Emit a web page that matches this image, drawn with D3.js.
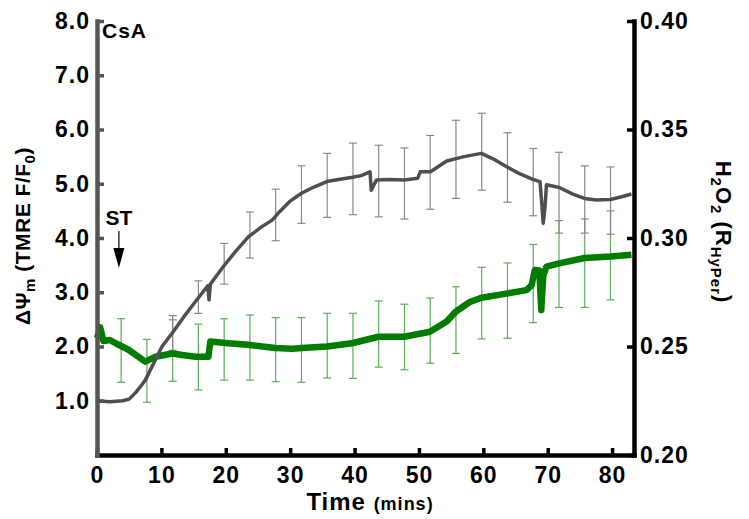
<!DOCTYPE html>
<html>
<head>
  <meta charset="utf-8">
  <title>CsA - TMRE and HyPer</title>
  <script src="https://d3js.org/d3.v7.min.js"></script>
  <style>
    body { margin: 0; background: white; }
    text { font-family: "Liberation Sans", Arial, sans-serif; font-weight: bold; fill: black; }
  </style>
</head>
<body>
<div id="output"></div>

<script type="text/javascript">

  // TMRE trace (grey, left axis), time in mins
  var tmreTime  = [0, 1, 2, 3, 4, 5, 6, 7, 7.5, 8.5, 10.1, 11.7, 13.5, 15.3, 17.2, 17.4, 17.6, 19.6, 21.5, 23.5, 25.5, 27.2, 28.4, 30, 31.7, 33.5, 35.7, 37.5, 39.7, 41, 42.4, 42.6, 43.4, 45.5, 47.7, 49.8, 50.2, 51.8, 54.3, 57, 59.7, 61.5, 63.7, 65.7, 67.7, 68.8, 69.1, 69.3, 69.6, 69.8, 71.8, 73.9, 75.7, 77.5, 79.7, 81.5, 83];
  var tmreValue = [1.00, 0.99, 0.98, 0.99, 1.00, 1.03, 1.15, 1.30, 1.38, 1.62, 2.00, 2.25, 2.55, 2.83, 3.12, 2.86, 3.15, 3.47, 3.75, 4.02, 4.20, 4.33, 4.49, 4.68, 4.82, 4.93, 5.04, 5.08, 5.12, 5.15, 5.22, 4.88, 5.07, 5.08, 5.07, 5.10, 5.22, 5.22, 5.42, 5.50, 5.56, 5.46, 5.31, 5.18, 5.08, 5.04, 4.60, 4.27, 4.60, 4.98, 4.93, 4.81, 4.73, 4.70, 4.71, 4.76, 4.81];

  // HyPer trace (green, right axis)
  var hyperTime  = [0, 0.5, 1, 2, 2.9, 4.9, 6.4, 7.5, 9.1, 11.7, 13.5, 15.3, 17.3, 17.6, 20.4, 23.5, 27.7, 30.3, 31.8, 35.7, 39.6, 43.7, 47.7, 51.7, 54.3, 55.7, 57.9, 59.7, 63.8, 66.7, 67.5, 68, 68.7, 69, 69.3, 69.8, 71.8, 75.7, 79.8, 83];
  var hyperValue = [0.2538, 0.2588, 0.2525, 0.2530, 0.2515, 0.2485, 0.2453, 0.2430, 0.2453, 0.2468, 0.2460, 0.2453, 0.2453, 0.2523, 0.2515, 0.2508, 0.2493, 0.2490, 0.2493, 0.2500, 0.2515, 0.2545, 0.2545, 0.2568, 0.2615, 0.2660, 0.2705, 0.2725, 0.2745, 0.2760, 0.2783, 0.2853, 0.2850, 0.2668, 0.2825, 0.2868, 0.2883, 0.2908, 0.2915, 0.2923];

  // error bars
  var barTime = [3.75, 7.75, 11.75, 15.75, 19.75, 23.75, 27.75, 31.75, 35.75, 39.75, 43.75, 47.75, 51.75, 55.75, 59.75, 63.75, 67.75, 71.75, 75.75, 79.75];
  var tmreBarTop    = [null, null, 2.57, 3.21, 3.90, 4.48, 4.90, 5.33, 5.56, 5.75, 5.71, 5.66, 5.89, 6.17, 6.30, 5.94, 5.65, 5.58, 5.33, 5.31];
  var tmreBarBottom = [null, null, 1.93, 2.61, 3.15, 3.63, 3.95, 4.27, 4.38, 4.43, 4.39, 4.35, 4.53, 4.73, 4.88, 4.66, 4.41, 4.09, 4.09, 4.07];
  var hyperBarTop    = [0.2628, 0.2533, 0.2623, 0.2603, 0.2628, 0.2645, 0.2633, 0.2633, 0.2653, 0.2653, 0.2710, 0.2695, 0.2723, 0.2775, 0.2865, 0.2885, 0.2970, 0.3080, 0.3088, 0.3125];
  var hyperBarBottom = [0.2335, 0.2243, 0.2340, 0.2300, 0.2345, 0.2345, 0.2338, 0.2335, 0.2355, 0.2353, 0.2405, 0.2393, 0.2423, 0.2468, 0.2535, 0.2538, 0.2610, 0.2680, 0.2680, 0.2715];

  var leftTicks  = [1, 2, 3, 4, 5, 6, 7, 8];
  var rightTicks = [0.20, 0.25, 0.30, 0.35, 0.40];
  var timeTicks  = [0, 10, 20, 30, 40, 50, 60, 70, 80];

  var w = 749;
  var h = 519;

  var x = d3.scaleLinear()
          .domain([0, 83.4])
          .range([97, 634]);

  var yL = d3.scaleLinear()
          .domain([0, 8])
          .range([455, 21]);

  var yR = d3.scaleLinear()
          .domain([0.2, 0.4])
          .range([455, 21]);

  var svg = d3.select("#output").append("svg")
          .attr("width", w)
          .attr("height", h);

  // error bars first, traces go over them
  function bars(top, bottom, y, color) {
    var g = svg.append("g")
            .attr("stroke", color)
            .attr("stroke-width", 1.2)
            .attr("fill", "none");
    barTime.forEach(function(t, i) {
      if (top[i] == null) return;
      var bx = x(t);
      g.append("line").attr("x1", bx).attr("x2", bx).attr("y1", y(top[i])).attr("y2", y(bottom[i]));
      g.append("line").attr("x1", bx - 4).attr("x2", bx + 4).attr("y1", y(top[i])).attr("y2", y(top[i]));
      g.append("line").attr("x1", bx - 4).attr("x2", bx + 4).attr("y1", y(bottom[i])).attr("y2", y(bottom[i]));
    });
  }

  bars(hyperBarTop, hyperBarBottom, yR, "#5aad5a");
  bars(tmreBarTop, tmreBarBottom, yL, "#8a8a8a");

  var hyperLine = d3.line()
          .x(function(d, i){ return x(hyperTime[i]) })
          .y(function(d){ return yR(d) });

  var tmreLine = d3.line()
          .x(function(d, i){ return x(tmreTime[i]) })
          .y(function(d){ return yL(d) });

  svg.append("path")
          .attr("d", hyperLine(hyperValue))
          .attr("fill", "none")
          .attr("stroke", "#007c00")
          .attr("stroke-width", 6.5)
          .attr("stroke-linejoin", "round");

  svg.append("path")
          .attr("d", tmreLine(tmreValue))
          .attr("fill", "none")
          .attr("stroke", "#4f4f4f")
          .attr("stroke-width", 3.5)
          .attr("stroke-linejoin", "round");

  // axes
  var xAxis = svg.append("g")
          .attr("transform", "translate(0,455)")
          .call(d3.axisBottom(x).tickValues(timeTicks).tickSizeInner(-7).tickSizeOuter(0).tickPadding(12));

  var rAxis = svg.append("g")
          .attr("transform", "translate(634,0)")
          .call(d3.axisRight(yR).tickValues(rightTicks).tickFormat(d3.format(".2f")).tickSizeInner(-7).tickSizeOuter(0).tickPadding(6));

  var lAxis = svg.append("g")
          .attr("transform", "translate(97,0)")
          .call(d3.axisLeft(yL).tickValues(leftTicks).tickFormat(d3.format(".1f")).tickSizeInner(-7).tickSizeOuter(0).tickPadding(7));

  [xAxis, rAxis, lAxis].forEach(function(a) {
    a.select(".domain").attr("stroke-width", 4.5).attr("stroke-linecap", "square");
    a.selectAll(".tick line").attr("stroke-width", 3.5);
    a.selectAll("text")
            .attr("font-family", null)
            .style("font-size", "23px")
            .style("letter-spacing", "1px");
  });
  lAxis.select(".domain").attr("stroke", "#555");
  lAxis.selectAll(".tick line").attr("stroke", "#555");

  // axis titles
  var yTitle = svg.append("text")
          .attr("transform", "translate(30,236) rotate(-90)")
          .attr("text-anchor", "middle")
          .style("font-size", "21px")
          .style("letter-spacing", "0.5px");
  yTitle.append("tspan").text("ΔΨ");
  yTitle.append("tspan").attr("dy", 5).style("font-size", "15px").text("m");
  yTitle.append("tspan").attr("dy", -5).text(" (TMRE F/F");
  yTitle.append("tspan").attr("dy", 5).style("font-size", "15px").text("0");
  yTitle.append("tspan").attr("dy", -5).text(")");

  var rTitle = svg.append("text")
          .attr("transform", "translate(716,232) rotate(90)")
          .attr("text-anchor", "middle")
          .style("font-size", "22px")
          .style("letter-spacing", "1px");
  rTitle.append("tspan").text("H");
  rTitle.append("tspan").attr("dy", 5).style("font-size", "15px").text("2");
  rTitle.append("tspan").attr("dy", -5).text("O");
  rTitle.append("tspan").attr("dy", 5).style("font-size", "15px").text("2");
  rTitle.append("tspan").attr("dy", -5).text(" (R");
  rTitle.append("tspan").attr("dy", 5).style("font-size", "15px").text("HyPer");
  rTitle.append("tspan").attr("dy", -5).text(")");

  var xTitle = svg.append("text")
          .attr("x", 370)
          .attr("y", 510)
          .attr("text-anchor", "middle")
          .style("letter-spacing", "1px");
  xTitle.append("tspan").style("font-size", "24px").text("Time ");
  xTitle.append("tspan").style("font-size", "18px").text("(mins)");

  svg.append("text")
          .attr("x", 102)
          .attr("y", 38)
          .style("font-size", "21px")
          .style("letter-spacing", "1px")
          .text("CsA");

  // stimulus marker
  var stTime = 3.4;
  svg.append("text")
          .attr("x", x(stTime))
          .attr("y", 225)
          .attr("text-anchor", "middle")
          .style("font-size", "21px")
          .text("ST");
  svg.append("line")
          .attr("x1", x(stTime)).attr("x2", x(stTime))
          .attr("y1", 231).attr("y2", 250)
          .attr("stroke", "black")
          .attr("stroke-width", 1.2);
  svg.append("path")
          .attr("d", "M" + (x(stTime) - 5.5) + ",248L" + (x(stTime) + 5.5) + ",248L" + x(stTime) + ",268Z")
          .attr("fill", "black");

</script>
</body>
</html>
